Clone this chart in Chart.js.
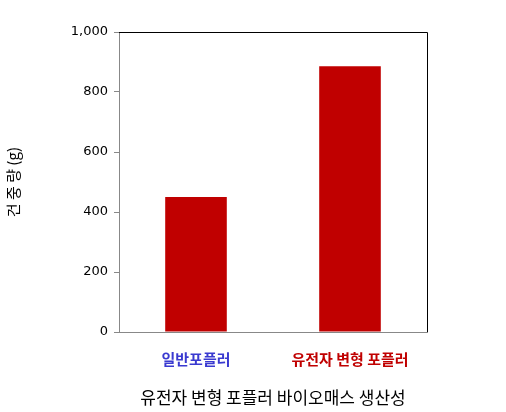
<!DOCTYPE html>
<html>
<head>
<meta charset="utf-8">
<script src="https://cdn.jsdelivr.net/npm/chart.js@4"></script>
<style>
  body { margin: 0; background: #fff; }
</style>
</head>
<body>
<canvas id="graph" width="506" height="412"></canvas>
<script>
const categories = ["일반포플러", "유전자 변형 포플러"];
const drymass = [450, 886];
const labelColors = ["#3a3ad0", "#c00000"];
const yTicks = [0, 200, 400, 600, 800, 1000];

const korean = "'Noto Sans CJK KR', 'DejaVu Sans', sans-serif";

// cadre noir en haut et a droite
const frame = {
  id: "frame",
  afterDraw(chart) {
    const a = chart.chartArea, c = chart.ctx;
    c.save();
    c.strokeStyle = "#000";
    c.lineWidth = 1;
    c.beginPath();
    c.moveTo(a.left, a.top + 0.5);
    c.lineTo(a.right + 0.5, a.top + 0.5);
    c.lineTo(a.right + 0.5, a.bottom);
    c.stroke();
    c.restore();
  }
};

new Chart(document.getElementById("graph"), {
  type: "bar",
  data: {
    labels: categories,
    datasets: [{
      data: drymass,
      backgroundColor: "#c00000",
      barPercentage: 0.4,
      categoryPercentage: 1
    }]
  },
  options: {
    responsive: false,
    animation: false,
    devicePixelRatio: 1,
    layout: { padding: { top: 32, right: 79, left: 0, bottom: 0 } },
    plugins: { legend: { display: false }, tooltip: { enabled: false } },
    scales: {
      x: {
        grid: { display: false },
        border: { color: "#888" },
        ticks: {
          autoSkip: false,
          maxRotation: 0,
          color: ctx => labelColors[ctx.index],
          font: { family: korean, size: 15, weight: "bold" },
          padding: 10
        },
        title: {
          display: true,
          text: "유전자 변형 포플러 바이오매스 생산성",
          color: "#000",
          font: { family: korean, size: 17 },
          padding: { top: 12 }
        },
        afterFit: s => { s.height = 80; }
      },
      y: {
        min: 0, max: 1000,
        afterBuildTicks: s => { s.ticks = yTicks.map(v => ({ value: v })); },
        grid: { drawOnChartArea: false, tickLength: 5, color: "#888" },
        border: { color: "#888" },
        ticks: { color: "#000", font: { family: "'DejaVu Sans', sans-serif", size: 13 }, padding: 6 },
        title: {
          display: true,
          text: "건 중 량 (g)",
          color: "#000",
          font: { family: korean, size: 15 },
          padding: { bottom: 12 }
        },
        afterFit: s => { s.width = 119; }
      }
    }
  },
  plugins: [frame]
});
</script>
</body>
</html>
